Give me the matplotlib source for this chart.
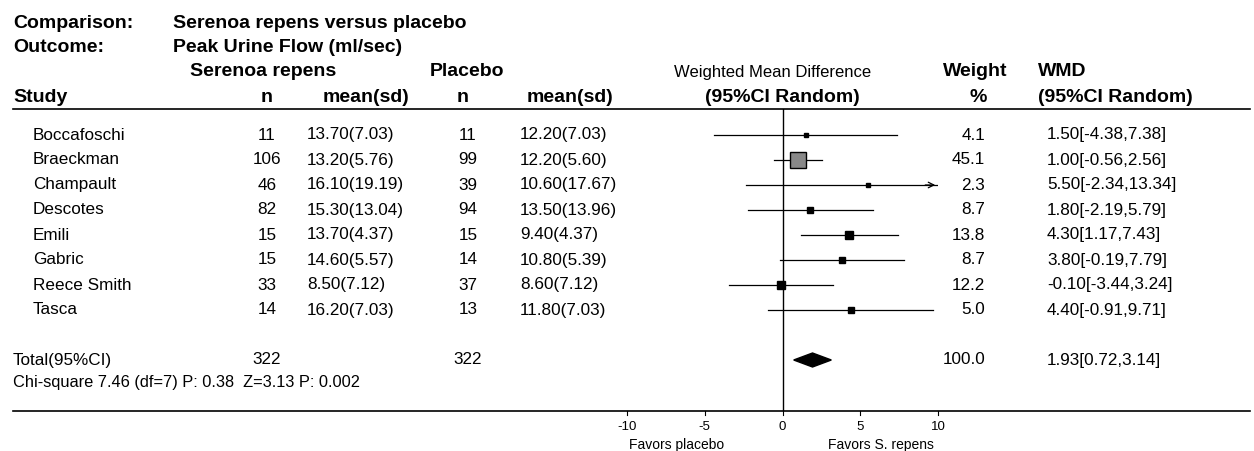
import matplotlib
matplotlib.use("Agg")
import matplotlib.pyplot as plt
from matplotlib.patches import Polygon

studies = ["Boccafoschi", "Braeckman", "Champault", "Descotes", "Emili", "Gabric", "Reece Smith", "Tasca"]
n_sr = [11, 106, 46, 82, 15, 15, 33, 14]
mean_sr = ["13.70(7.03)", "13.20(5.76)", "16.10(19.19)", "15.30(13.04)", "13.70(4.37)", "14.60(5.57)", "8.50(7.12)", "16.20(7.03)"]
n_pl = [11, 99, 39, 94, 15, 14, 37, 13]
mean_pl = ["12.20(7.03)", "12.20(5.60)", "10.60(17.67)", "13.50(13.96)", "9.40(4.37)", "10.80(5.39)", "8.60(7.12)", "11.80(7.03)"]
wmd = [1.50, 1.00, 5.50, 1.80, 4.30, 3.80, -0.10, 4.40]
lo = [-4.38, -0.56, -2.34, -2.19, 1.17, -0.19, -3.44, -0.91]
hi = [7.38, 2.56, 13.34, 5.79, 7.43, 7.79, 3.24, 9.71]
weight = [4.1, 45.1, 2.3, 8.7, 13.8, 8.7, 12.2, 5.0]
total_n_sr, total_n_pl = 322, 322
total_wmd, total_lo, total_hi = 1.93, 0.72, 3.14
xticks = [-10, -5, 0, 5, 10]

W, H = 1254, 451
fig = plt.figure(figsize=(W/100, H/100), dpi=100)
plt.rcParams['font.family'] = ['Liberation Sans', 'DejaVu Sans']
bg = fig.add_axes([0, 0, 1, 1])
bg.set_xlim(0, W); bg.set_ylim(H, 0); bg.axis('off')

def t(x, y, s, ha='left', bold=False, size=12.3):
    bg.text(x, y, s, ha=ha, va='center', fontsize=size, fontweight='bold' if bold else 'normal')

hb = 14
t(13, 24, "Comparison:", bold=True, size=hb); t(173, 24, "Serenoa repens versus placebo", bold=True, size=hb)
t(13, 48, "Outcome:", bold=True, size=hb); t(173, 48, "Peak Urine Flow (ml/sec)", bold=True, size=hb)
t(190, 72, "Serenoa repens", bold=True, size=hb); t(430, 72, "Placebo", bold=True, size=hb)
t(773, 72, "Weighted Mean Difference", ha='center', size=12)
t(943, 72, "Weight", bold=True, size=hb); t(1038, 72, "WMD", bold=True, size=hb)
t(13, 97, "Study", bold=True, size=hb); t(267, 97, "n", ha='center', bold=True, size=hb)
t(323, 97, "mean(sd)", bold=True, size=hb); t(463, 97, "n", ha='center', bold=True, size=hb)
t(527, 97, "mean(sd)", bold=True, size=hb); t(782, 97, "(95%CI Random)", ha='center', bold=True, size=hb)
t(978, 97, "%", ha='center', bold=True, size=hb); t(1038, 97, "(95%CI Random)", bold=True, size=hb)
bg.plot([13, 1250], [109, 109], color='black', lw=1.2)
bg.plot([13, 1250], [411, 411], color='black', lw=1.2)

rows_y = [135 + 25*i for i in range(len(studies))]
for i, y in enumerate(rows_y):
    t(33, y, studies[i]); t(267, y, str(n_sr[i]), ha='center'); t(307, y, mean_sr[i])
    t(468, y, str(n_pl[i]), ha='center'); t(520, y, mean_pl[i])
    t(985, y, f"{weight[i]:.1f}", ha='right')
    t(1047, y, f"{wmd[i]:.2f}[{lo[i]:.2f},{hi[i]:.2f}]")
ty = 360
t(13, ty, "Total(95%CI)"); t(267, ty, str(total_n_sr), ha='center')
t(468, ty, str(total_n_pl), ha='center')
t(985, ty, "100.0", ha='right'); t(1047, ty, f"{total_wmd:.2f}[{total_lo:.2f},{total_hi:.2f}]")
t(13, 382, "Chi-square 7.46 (df=7) P: 0.38  Z=3.13 P: 0.002", size=11.8)

ax = fig.add_axes([627/W, 1-411/H, (938-627)/W, (411-109)/H])
ax.set_xlim(-10, 10); ax.set_ylim(411, 109)
ax.axis('off')
ax.axvline(0, color='black', lw=1)
for v in xticks:
    ax.plot([v, v], [411, 415], color='black', lw=0.8, clip_on=False)
    ax.text(v, 427, str(v), ha='center', va='center', fontsize=9.5)
ax.text(-6.8, 445, "Favors placebo", ha='center', va='center', fontsize=10)
ax.text(6.3, 445, "Favors S. repens", ha='center', va='center', fontsize=10)
for i, y in enumerate(rows_y):
    right = min(hi[i], 10)
    ax.plot([lo[i], right], [y, y], color='black', lw=0.9)
    if hi[i] > 10:
        ax.annotate("", xy=(10, y), xytext=(9, y), arrowprops=dict(arrowstyle='->', lw=0.9, color='black'))
    ms = 2.8 + weight[i]*0.19
    ax.plot(wmd[i], y, marker='s', ms=ms, mfc='#888888' if weight[i] > 20 else 'black', mec='black', mew=1)
ax.add_patch(Polygon([[total_lo, ty], [total_wmd, ty-7], [total_hi, ty], [total_wmd, ty+7]], closed=True, color='black'))

fig.savefig("out.png", dpi=100)
